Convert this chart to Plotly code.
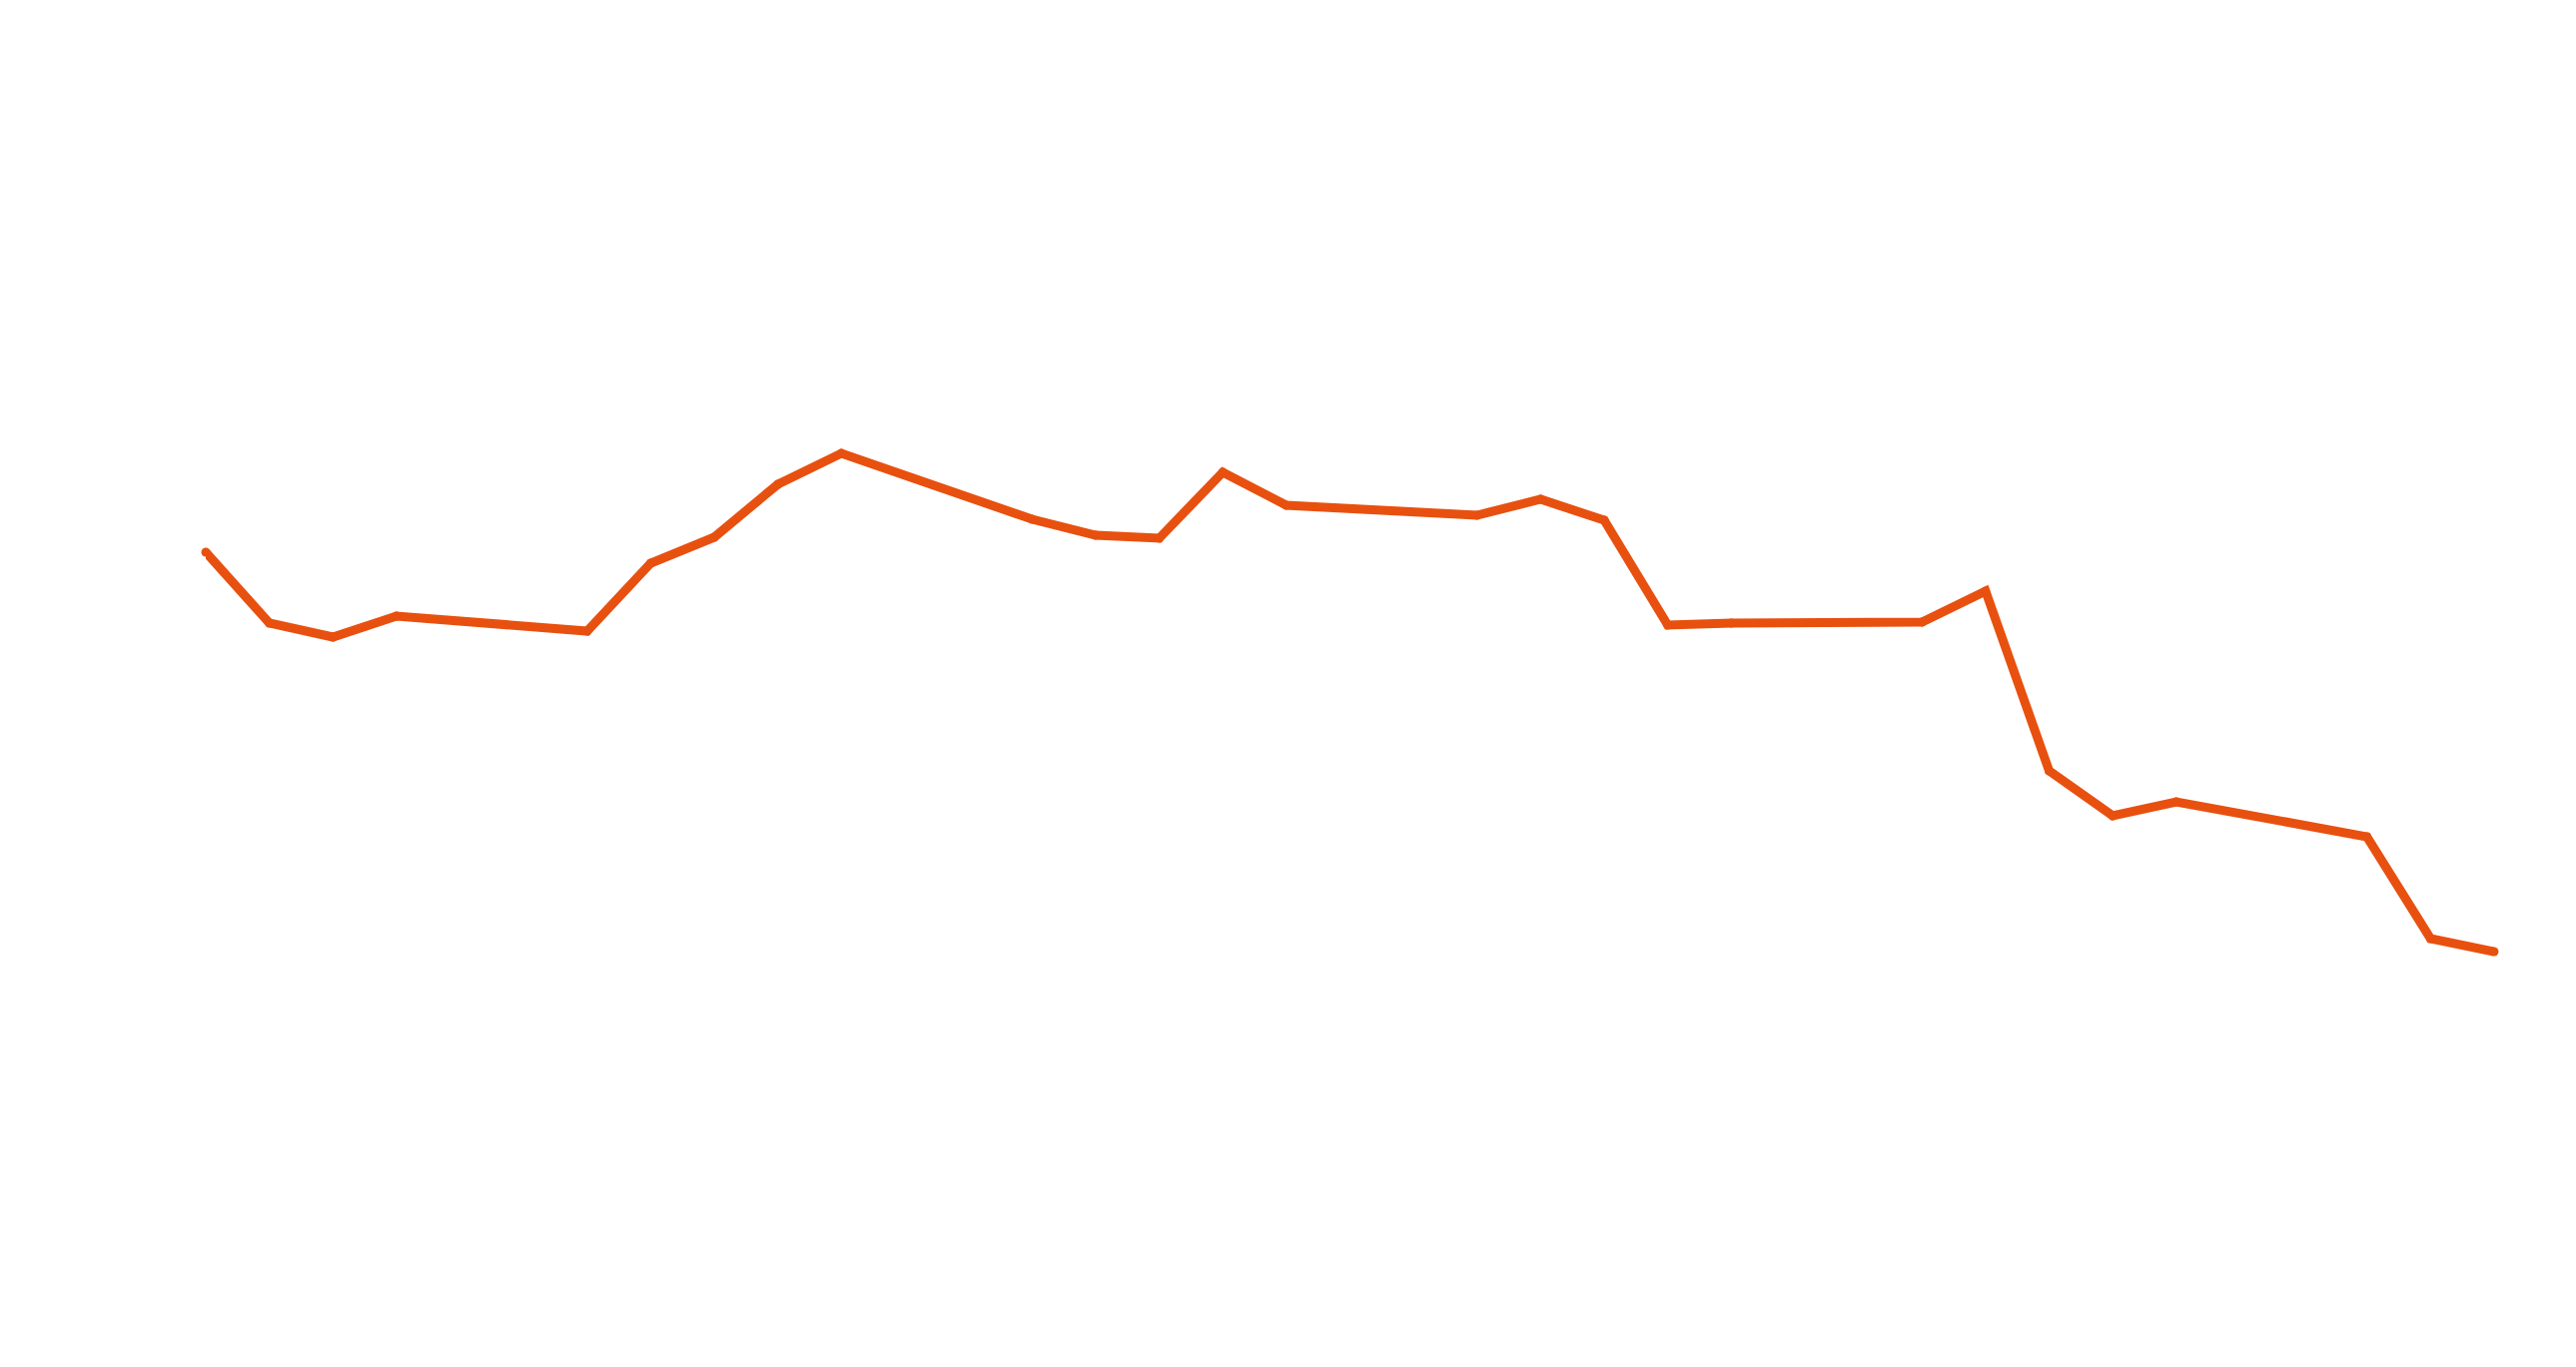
import plotly.graph_objects as go

dates = [
    "2024-01-02", "2024-01-03", "2024-01-04", "2024-01-05",
    "2024-01-08", "2024-01-09", "2024-01-10", "2024-01-11", "2024-01-12",
    "2024-01-15", "2024-01-16", "2024-01-17", "2024-01-18", "2024-01-19",
    "2024-01-22", "2024-01-23", "2024-01-24", "2024-01-25", "2024-01-26",
    "2024-01-29", "2024-01-30", "2024-01-31", "2024-02-01", "2024-02-02",
    "2024-02-05", "2024-02-06", "2024-02-07",
]
values = [
    140.0, 132.9, 131.5, 133.6,
    132.1, 138.9, 141.5, 146.8, 149.9,
    143.3, 141.7, 141.4, 148.0, 144.7,
    143.7, 145.3, 143.2, 132.7, 132.9,
    133.0, 136.1, 118.1, 113.6, 115.0,
    111.5, 101.3, 100.0,
]

LINE_W = 9

fig = go.Figure()
fig.add_trace(go.Scatter(
    x=dates, y=values, mode="lines+markers",
    line=dict(color="#E8500F", width=LINE_W),
    marker=dict(color="#E8500F", size=LINE_W, line=dict(width=0)),
    cliponaxis=False,
    showlegend=False, hoverinfo="skip",
))

fig.update_layout(
    width=2579, height=1369,
    margin=dict(l=206, r=82, t=100, b=80),
    paper_bgcolor="white", plot_bgcolor="white",
    xaxis=dict(visible=False, range=[dates[0], dates[-1]], type="date"),
    yaxis=dict(visible=False, range=[66.4, 185.3]),
)

fig.write_html("out.html")
